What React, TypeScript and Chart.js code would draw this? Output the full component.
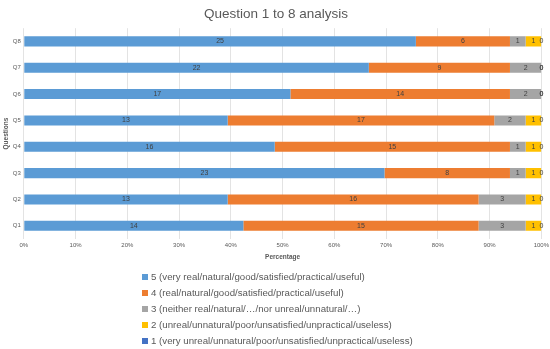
import React, { useEffect, useRef } from "react";
import { Chart, registerables } from "chart.js";

Chart.register(...registerables);

const categories = ["Q1", "Q2", "Q3", "Q4", "Q5", "Q6", "Q7", "Q8"];
const seriesNames = [
  "5 (very real/natural/good/satisfied/practical/useful)",
  "4 (real/natural/good/satisfied/practical/useful)",
  "3 (neither real/natural/…/nor unreal/unnatural/…)",
  "2 (unreal/unnatural/poor/unsatisfied/unpractical/useless)",
  "1 (very unreal/unnatural/poor/unsatisfied/unpractical/useless)",
];
const score5 = [14, 13, 23, 16, 13, 17, 22, 25];
const score4 = [15, 16, 8, 15, 17, 14, 9, 6];
const score3 = [3, 3, 1, 1, 2, 2, 2, 1];
const score2 = [1, 1, 1, 1, 1, 0, 0, 1];
const score1 = [0, 0, 0, 0, 0, 0, 0, 0];
const xTicks = ["0%", "10%", "20%", "30%", "40%", "50%", "60%", "70%", "80%", "90%", "100%"];
const colors = ["#5b9bd5", "#ed7d31", "#a5a5a5", "#ffc000", "#4472c4"];

const allSeries = [score5, score4, score3, score2, score1];

export default function App() {
  const ref = useRef<HTMLCanvasElement>(null);
  useEffect(() => {
    document.body.style.margin = "0";
    const totals = categories.map((_, i) => allSeries.reduce((s, arr) => s + arr[i], 0));
    const labelPlugin = {
      id: "valueLabels",
      afterDatasetsDraw(chart: any) {
        const ctx = chart.ctx;
        ctx.save();
        ctx.font = "7px 'Liberation Sans'";
        ctx.fillStyle = "#404040";
        ctx.textAlign = "center";
        ctx.textBaseline = "middle";
        chart.data.datasets.forEach((ds: any, di: number) => {
          const meta = chart.getDatasetMeta(di);
          meta.data.forEach((el: any, i: number) => {
            const v = ds.counts[i];
            ctx.fillText(String(v), (el.x + el.base) / 2, el.y);
          });
        });
        ctx.restore();
      },
    };
    const legendPlugin = {
      id: "customLegend",
      afterDraw(chart: any) {
        const ctx = chart.ctx;
        ctx.save();
        ctx.font = "9.7px 'Liberation Sans'";
        ctx.textBaseline = "middle";
        ctx.textAlign = "left";
        const x0 = 142;
        const y0 = 277;
        const step = 16;
        seriesNames.forEach((name, i) => {
          const y = y0 + i * step;
          ctx.fillStyle = colors[i];
          ctx.fillRect(x0, y - 3, 6, 6);
          ctx.fillStyle = "#595959";
          ctx.fillText(name, x0 + 9, y);
        });
        ctx.restore();
      },
    };
    const chart = new Chart(ref.current!, {
      type: "bar",
      data: {
        labels: categories,
        datasets: allSeries.map((arr, k) => ({
          label: seriesNames[k],
          data: arr.map((v, i) => (v / totals[i]) * 100),
          counts: arr,
          backgroundColor: colors[k],
          borderWidth: 0,
          barPercentage: 0.38,
          categoryPercentage: 1,
        })) as any,
      },
      options: {
        indexAxis: "y",
        animation: false,
        responsive: false,
        layout: { padding: { left: 2, right: 0, top: 0, bottom: 88 } },
        plugins: {
          legend: { display: false },
          tooltip: { enabled: false },
          title: {
            display: true,
            text: "Question 1 to 8 analysis",
            color: "#595959",
            font: { family: "'Liberation Sans'", size: 13.5, weight: "normal" },
            padding: { top: 6, bottom: 6 },
          },
        },
        scales: {
          x: {
            stacked: true,
            min: 0,
            max: 100,
            ticks: {
              stepSize: 10,
              color: "#595959",
              font: { family: "'Liberation Sans'", size: 6 },
              padding: 1,
              callback: (_v: any, i: number) => xTicks[i],
            },
            grid: { color: "#e3e3e3", drawTicks: true, tickLength: 2, tickColor: "rgba(0,0,0,0)" },
            border: { display: false },
            title: {
              display: true,
              text: "Percentage",
              color: "#595959",
              font: { family: "'Liberation Sans'", size: 6.5, weight: "bold" },
              padding: { top: 3, bottom: 0 },
            },
          },
          y: {
            stacked: true,
            reverse: true,
            ticks: {
              color: "#595959",
              font: { family: "'Liberation Sans'", size: 6 },
              padding: 3,
            },
            grid: { display: false, drawTicks: false },
            border: { display: false },
            title: {
              display: true,
              text: "Questions",
              color: "#595959",
              font: { family: "'Liberation Sans'", size: 6.5, weight: "bold" },
              padding: { top: 0, bottom: 0 },
            },
          },
        },
      },
      plugins: [labelPlugin, legendPlugin],
    });
    return () => chart.destroy();
  }, []);
  return (
    <div style={{ width: 550, height: 349, background: "#fff" }}>
      <canvas ref={ref} width={550} height={349} />
    </div>
  );
}
